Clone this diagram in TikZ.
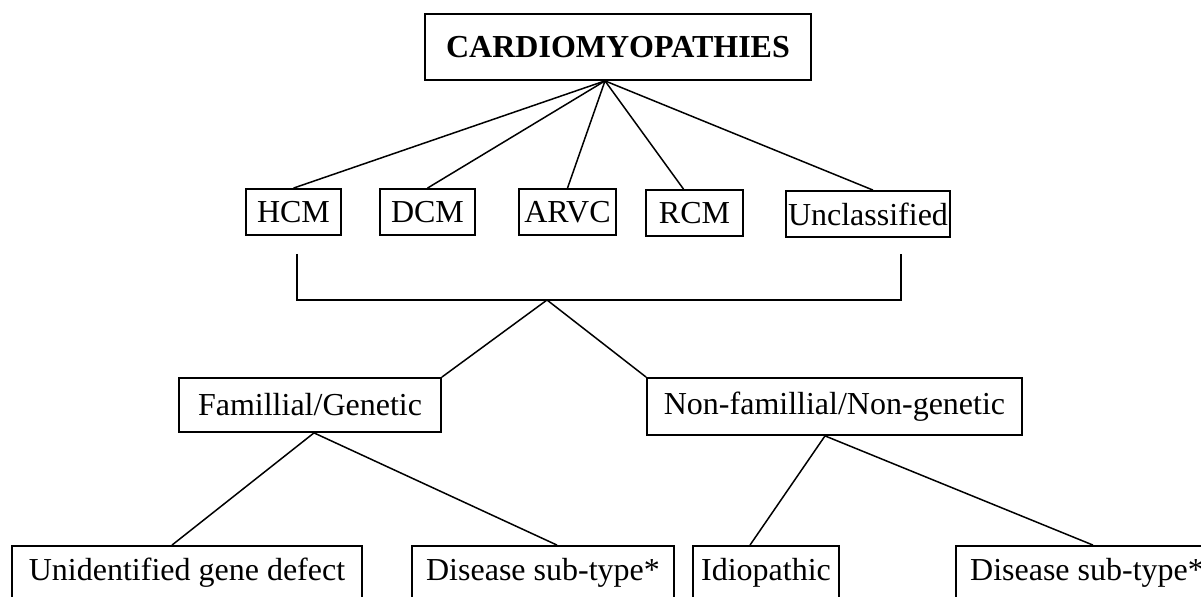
\documentclass[tikz,border=0pt]{standalone}
\usepackage{fontspec}
\setmainfont{Liberation Serif}

\begin{document}
\begin{tikzpicture}[x=0.5pt, y=-0.5pt, font=\fontsize{16}{19}\selectfont,
    box/.style={rectangle, draw, line width=0.9pt, inner sep=0pt, minimum height=23pt},
    link/.style={line width=0.75pt}]

    \useasboundingbox (0,0) rectangle (1201,597);

    \node[box, minimum width=193pt, minimum height=33pt, font=\fontsize{16}{19}\selectfont\bfseries] (cardio) at (618,47) {CARDIOMYOPATHIES};
    \coordinate (hub) at ([xshift=-6.5pt]cardio.south);

    \node[box, minimum width=47.5pt] (hcm) at (293.5,212) {HCM};
    \node[box, minimum width=47.5pt] (dcm) at (427.5,212) {DCM};
    \node[box, minimum width=48.5pt] (arvc) at (567.5,212) {ARVC};
    \node[box, minimum width=48.5pt] (rcm) at (694.5,213) {RCM};
    \node[box, minimum width=82pt] (uncl) at (868,214) {Unclassified};

    \draw[link] (hub) -- (hcm.north);
    \draw[link] (hub) -- (dcm.north);
    \draw[link] (hub) -- (arvc.north);
    \draw[link] (hub) -- ([xshift=-5.5pt]rcm.north);
    \draw[link] (hub) -- ([xshift=2.5pt]uncl.north);

    \coordinate (brl) at (297,254);
    \coordinate (brr) at (901,254);
    \coordinate (brj) at (547,300);
    \draw[link] (brl) |- (brj) -| (brr);

    \node[box, minimum width=131pt, minimum height=27pt] (fam) at (310,405) {Famillial/Genetic};
    \node[box, minimum width=187.5pt, minimum height=28.5pt] (nonfam) at (834.5,406.5) {Non-famillial/Non-genetic};

    \draw[link] (brj) -- (fam.north east);
    \draw[link] (brj) -- (nonfam.north west);

    \node[box, minimum width=175pt, minimum height=27pt] (unid) at (187,573) {Unidentified gene defect};
    \node[box, minimum width=131pt, minimum height=27pt] (sub1) at (543,573) {Disease sub-type*};
    \node[box, minimum width=73pt, minimum height=27pt] (idio) at (766,573) {Idiopathic};
    \node[box, minimum width=131pt, minimum height=27pt] (sub2) at (1087,573) {Disease sub-type*};

    \draw[link] ([xshift=2pt]fam.south) -- ([xshift=-7.5pt]unid.north);
    \draw[link] ([xshift=2pt]fam.south) -- ([xshift=7pt]sub1.north);
    \draw[link] ([xshift=-4.75pt]nonfam.south) -- ([xshift=-8pt]idio.north);
    \draw[link] ([xshift=-4.75pt]nonfam.south) -- ([xshift=3pt]sub2.north);

\end{tikzpicture}
\end{document}
